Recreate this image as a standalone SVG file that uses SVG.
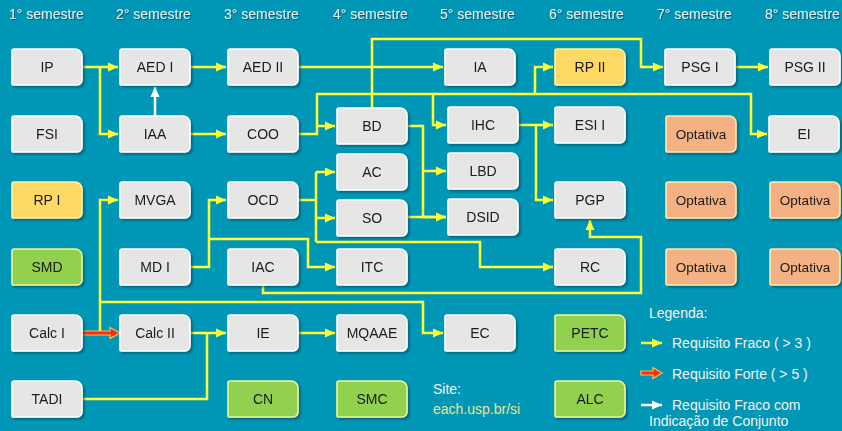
<svg xmlns="http://www.w3.org/2000/svg" xmlns:xlink="http://www.w3.org/1999/xlink" width="842" height="431" viewBox="0 0 842 431">
<defs>
<style>
.g{fill:#E6E6E6;stroke:#FFFFFF;stroke-width:1.6}
.y{fill:#FFD966;stroke:#FFF3A0;stroke-width:1.6}
.o{fill:#F4B183;stroke:#FFE9A8;stroke-width:1.6}
.v{fill:#92D050;stroke:#F0F59A;stroke-width:1.6}
.t{font-family:"Liberation Sans",Arial,sans-serif;font-size:14px;fill:#1A1A1A;text-anchor:middle}
.op{font-size:13.5px}
.h{font-family:"Liberation Sans",Arial,sans-serif;font-size:14px;fill:#E8EEEE}
.l{font-family:"Liberation Sans",Arial,sans-serif;font-size:14px;fill:#F2F2F2}
.c{fill:none;stroke:#FFFF33;stroke-width:2.5;stroke-linejoin:miter}
.w{fill:none;stroke:#FFFFFF;stroke-width:2.5}
.r{fill:#FF2A1A;stroke:#FFC040;stroke-width:1.2;stroke-linejoin:miter}
</style>
<path id="bx" d="M2,0 H63 A7,7 0 0 1 70,7 V31 A5,5 0 0 1 65,36 H1 A1,1 0 0 1 0,35 V2 A2,2 0 0 1 2,0 Z"/>
<filter id="sh" x="-10%" y="-10%" width="130%" height="140%">
<feDropShadow dx="2" dy="2" stdDeviation="1" flood-color="#00475A" flood-opacity="0.6"/>
</filter>
<filter id="ts" x="-5%" y="-20%" width="110%" height="150%">
<feDropShadow dx="1" dy="1" stdDeviation="0.6" flood-color="#004A5C" flood-opacity="0.7"/>
</filter>
<marker id="ay" markerUnits="userSpaceOnUse" markerWidth="10" markerHeight="10" refX="10" refY="5" orient="auto">
<path d="M0,0.5 L10,5 L0,9.5 Z" fill="#FFFF33"/>
</marker>
<marker id="aw" markerUnits="userSpaceOnUse" markerWidth="10" markerHeight="10" refX="10" refY="5" orient="auto">
<path d="M0,0.5 L10,5 L0,9.5 Z" fill="#FFFFFF"/>
</marker>
</defs>
<rect width="842" height="431" fill="#0097B6"/>

<g id="headers" filter="url(#ts)">
<text class="h" x="9" y="19">1° semestre</text>
<text class="h" x="116" y="19">2° semestre</text>
<text class="h" x="224" y="19">3° semestre</text>
<text class="h" x="333" y="19">4° semestre</text>
<text class="h" x="440" y="19">5° semestre</text>
<text class="h" x="549" y="19">6° semestre</text>
<text class="h" x="657" y="19">7° semestre</text>
<text class="h" x="765" y="19">8° semestre</text>
</g>

<g id="connectors">
<path class="c" d="M82,67 H118" marker-end="url(#ay)"/>
<path class="c" d="M100,67 V134 H118" marker-end="url(#ay)"/>
<path class="c" d="M190,67 H226" marker-end="url(#ay)"/>
<path class="c" d="M190,134 H226" marker-end="url(#ay)"/>
<path class="c" d="M298,67 H443" marker-end="url(#ay)"/>
<path class="c" d="M298,134 H317 V94 H751 V134 H767" marker-end="url(#ay)"/>
<path class="c" d="M317,126 H335" marker-end="url(#ay)"/>
<path class="c" d="M433,94 V125 H446" marker-end="url(#ay)"/>
<path class="c" d="M535,94 V67 H553" marker-end="url(#ay)"/>
<path class="c" d="M372,108 V39 H641 V67 H663" marker-end="url(#ay)"/>
<path class="c" d="M735,67 H768" marker-end="url(#ay)"/>
<path class="c" d="M407,126 H423 V217 H446" marker-end="url(#ay)"/>
<path class="c" d="M423,171 H446" marker-end="url(#ay)"/>
<path class="c" d="M407,217 H446"/>
<path class="c" d="M518,125 H553" marker-end="url(#ay)"/>
<path class="c" d="M536,125 V200 H553" marker-end="url(#ay)"/>
<path class="c" d="M298,200 H316"/>
<path class="c" d="M316,172 V242"/>
<path class="c" d="M316,172 H335" marker-end="url(#ay)"/>
<path class="c" d="M316,218 H335" marker-end="url(#ay)"/>
<path class="c" d="M316,242 H480 V267 H553" marker-end="url(#ay)"/>
<path class="c" d="M190,267 H209 V200 H226" marker-end="url(#ay)"/>
<path class="c" d="M209,239 H308 V267 H335" marker-end="url(#ay)"/>
<path class="c" d="M263,285 V293 H641 V237 H590 V220" marker-end="url(#ay)"/>
<path class="c" d="M100,331 V200 H118" marker-end="url(#ay)"/>
<path class="c" d="M100,302 H423 V333 H443" marker-end="url(#ay)"/>
<path class="c" d="M190,333 H226" marker-end="url(#ay)"/>
<path class="c" d="M82,399 H207 V333"/>
<path class="c" d="M298,333 H335" marker-end="url(#ay)"/>
<path class="r" d="M82,331 H110 V327.5 L120,333 L110,338.5 V335 H82 Z"/>
<path class="w" d="M155,116 V87" marker-end="url(#aw)"/>
</g>

<g id="n-IP" filter="url(#sh)"><use href="#bx" x="12" y="49" class="g"/><text class="t" x="47" y="72">IP</text></g>
<g id="n-AEDI" filter="url(#sh)"><use href="#bx" x="120" y="49" class="g"/><text class="t" x="155" y="72">AED I</text></g>
<g id="n-AEDII" filter="url(#sh)"><use href="#bx" x="228" y="49" class="g"/><text class="t" x="263" y="72">AED II</text></g>
<g id="n-IA" filter="url(#sh)"><use href="#bx" x="445" y="49" class="g"/><text class="t" x="480" y="72">IA</text></g>
<g id="n-RPII" filter="url(#sh)"><use href="#bx" x="555" y="49" class="y"/><text class="t" x="590" y="72">RP II</text></g>
<g id="n-PSGI" filter="url(#sh)"><use href="#bx" x="665" y="49" class="g"/><text class="t" x="700" y="72">PSG I</text></g>
<g id="n-PSGII" filter="url(#sh)"><use href="#bx" x="770" y="49" class="g"/><text class="t" x="805" y="72">PSG II</text></g>

<g id="n-FSI" filter="url(#sh)"><use href="#bx" x="12" y="116" class="g"/><text class="t" x="47" y="139">FSI</text></g>
<g id="n-IAA" filter="url(#sh)"><use href="#bx" x="120" y="116" class="g"/><text class="t" x="155" y="139">IAA</text></g>
<g id="n-COO" filter="url(#sh)"><use href="#bx" x="228" y="116" class="g"/><text class="t" x="263" y="139">COO</text></g>
<g id="n-BD" filter="url(#sh)"><use href="#bx" x="337" y="108" class="g"/><text class="t" x="372" y="131">BD</text></g>
<g id="n-IHC" filter="url(#sh)"><use href="#bx" x="448" y="107" class="g"/><text class="t" x="483" y="130">IHC</text></g>
<g id="n-ESII" filter="url(#sh)"><use href="#bx" x="555" y="107" class="g"/><text class="t" x="590" y="130">ESI I</text></g>
<g id="n-Opt1" filter="url(#sh)"><use href="#bx" x="666" y="116" class="o"/><text class="t op" x="701" y="139">Optativa</text></g>
<g id="n-EI" filter="url(#sh)"><use href="#bx" x="769" y="116" class="g"/><text class="t" x="804" y="139">EI</text></g>

<g id="n-RPI" filter="url(#sh)"><use href="#bx" x="12" y="182" class="y"/><text class="t" x="47" y="205">RP I</text></g>
<g id="n-MVGA" filter="url(#sh)"><use href="#bx" x="120" y="182" class="g"/><text class="t" x="155" y="205">MVGA</text></g>
<g id="n-OCD" filter="url(#sh)"><use href="#bx" x="228" y="182" class="g"/><text class="t" x="263" y="205">OCD</text></g>
<g id="n-AC" filter="url(#sh)"><use href="#bx" x="337" y="154" class="g"/><text class="t" x="372" y="177">AC</text></g>
<g id="n-SO" filter="url(#sh)"><use href="#bx" x="337" y="200" class="g"/><text class="t" x="372" y="223">SO</text></g>
<g id="n-LBD" filter="url(#sh)"><use href="#bx" x="448" y="153" class="g"/><text class="t" x="483" y="176">LBD</text></g>
<g id="n-DSID" filter="url(#sh)"><use href="#bx" x="448" y="199" class="g"/><text class="t" x="483" y="222">DSID</text></g>
<g id="n-PGP" filter="url(#sh)"><use href="#bx" x="555" y="182" class="g"/><text class="t" x="590" y="205">PGP</text></g>
<g id="n-Opt2" filter="url(#sh)"><use href="#bx" x="666" y="182" class="o"/><text class="t op" x="701" y="205">Optativa</text></g>
<g id="n-Opt3" filter="url(#sh)"><use href="#bx" x="770" y="182" class="o"/><text class="t op" x="805" y="205">Optativa</text></g>

<g id="n-SMD" filter="url(#sh)"><use href="#bx" x="12" y="249" class="v"/><text class="t" x="47" y="272">SMD</text></g>
<g id="n-MDI" filter="url(#sh)"><use href="#bx" x="120" y="249" class="g"/><text class="t" x="155" y="272">MD I</text></g>
<g id="n-IAC" filter="url(#sh)"><use href="#bx" x="228" y="249" class="g"/><text class="t" x="263" y="272">IAC</text></g>
<g id="n-ITC" filter="url(#sh)"><use href="#bx" x="337" y="249" class="g"/><text class="t" x="372" y="272">ITC</text></g>
<g id="n-RC" filter="url(#sh)"><use href="#bx" x="555" y="249" class="g"/><text class="t" x="590" y="272">RC</text></g>
<g id="n-Opt4" filter="url(#sh)"><use href="#bx" x="666" y="249" class="o"/><text class="t op" x="701" y="272">Optativa</text></g>
<g id="n-Opt5" filter="url(#sh)"><use href="#bx" x="770" y="249" class="o"/><text class="t op" x="805" y="272">Optativa</text></g>

<g id="n-CalcI" filter="url(#sh)"><use href="#bx" x="12" y="315" class="g"/><text class="t" x="47" y="338">Calc I</text></g>
<g id="n-CalcII" filter="url(#sh)"><use href="#bx" x="120" y="315" class="g"/><text class="t" x="155" y="338">Calc II</text></g>
<g id="n-IE" filter="url(#sh)"><use href="#bx" x="228" y="315" class="g"/><text class="t" x="263" y="338">IE</text></g>
<g id="n-MQAAE" filter="url(#sh)"><use href="#bx" x="337" y="315" class="g"/><text class="t" x="372" y="338">MQAAE</text></g>
<g id="n-EC" filter="url(#sh)"><use href="#bx" x="445" y="315" class="g"/><text class="t" x="480" y="338">EC</text></g>
<g id="n-PETC" filter="url(#sh)"><use href="#bx" x="555" y="315" class="v"/><text class="t" x="590" y="338">PETC</text></g>

<g id="n-TADI" filter="url(#sh)"><use href="#bx" x="12" y="381" class="g"/><text class="t" x="47" y="404">TADI</text></g>
<g id="n-CN" filter="url(#sh)"><use href="#bx" x="228" y="381" class="v"/><text class="t" x="263" y="404">CN</text></g>
<g id="n-SMC" filter="url(#sh)"><use href="#bx" x="337" y="381" class="v"/><text class="t" x="372" y="404">SMC</text></g>
<g id="n-ALC" filter="url(#sh)"><use href="#bx" x="555" y="381" class="v"/><text class="t" x="590" y="404">ALC</text></g>

<g id="site">
<text class="l" x="433" y="394">Site:</text>
<text class="l" x="433" y="414" style="fill:#EEE38A">each.usp.br/si</text>
</g>

<g id="legend">
<text class="l" x="649" y="318">Legenda:</text>
<path class="c" d="M641,343 H662" marker-end="url(#ay)"/>
<text class="l" x="672" y="348">Requisito Fraco ( &gt; 3 )</text>
<path class="r" d="M641,371 H653 V367.5 L662,373 L653,378.5 V375 H641 Z"/>
<text class="l" x="672" y="379">Requisito Forte ( &gt; 5 )</text>
<path class="w" d="M641,405 H662" marker-end="url(#aw)"/>
<text class="l" x="672" y="410">Requisito Fraco com</text>
<text class="l" x="649" y="426">Indicação de Conjunto</text>
</g>
</svg>
